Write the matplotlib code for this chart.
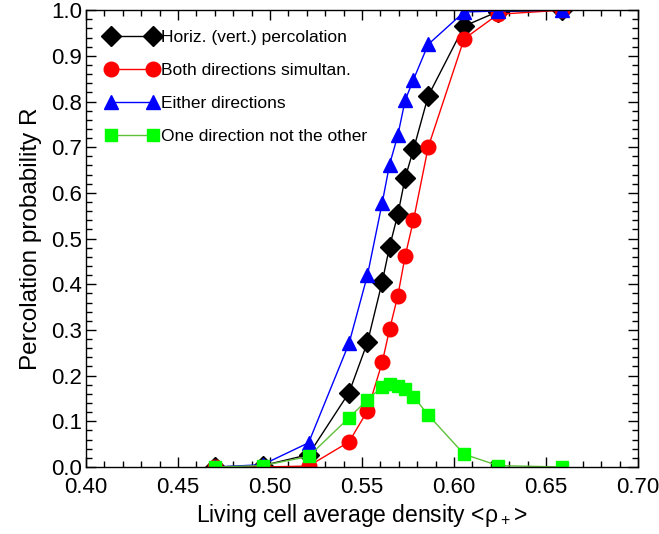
import numpy as np
import matplotlib.pyplot as plt
from matplotlib.ticker import MultipleLocator

plt.rcParams['font.family'] = ['Liberation Sans', 'DejaVu Sans']

density = [0.470, 0.496, 0.521, 0.543, 0.553, 0.561, 0.565, 0.5695, 0.5735, 0.578, 0.586, 0.6055, 0.624, 0.659]
horiz = [0.0, 0.003, 0.027, 0.163, 0.273, 0.405, 0.482, 0.553, 0.633, 0.695, 0.812, 0.965, 0.997, 1.0]
both = [0.0, 0.0, 0.002, 0.055, 0.123, 0.229, 0.301, 0.375, 0.462, 0.540, 0.700, 0.937, 0.991, 1.0]
either = [0.0, 0.005, 0.053, 0.271, 0.420, 0.578, 0.662, 0.726, 0.803, 0.848, 0.925, 0.996, 0.998, 1.0]
one_not_other = [0.0, 0.003, 0.023, 0.108, 0.147, 0.176, 0.181, 0.177, 0.171, 0.154, 0.114, 0.028, 0.003, 0.0]

fig = plt.figure(figsize=(6.59, 5.34), dpi=100)
ax = fig.add_axes([0.1305, 0.1255, 0.8375, 0.8555])

ax.plot(density, horiz, '-D', color='black', lw=1, ms=10, label='Horiz. (vert.) percolation')
ax.plot(density, both, '-o', color='red', mfc='red', mec='red', lw=1, ms=10.5, label='Both directions simultan.')
ax.plot(density, either, '-^', color='blue', mfc='blue', mec='blue', lw=1, ms=10.5, label='Either directions')
ax.plot(density, one_not_other, '-s', color='#5fc03a', mfc='#00ff00', mec='#00ff00', lw=1, ms=8.5,
        label='One direction not the other')

ax.set_xlim(0.40, 0.70)
ax.set_ylim(0.0, 1.0)
ax.xaxis.set_major_locator(MultipleLocator(0.05))
ax.xaxis.set_minor_locator(MultipleLocator(0.01))
ax.yaxis.set_major_locator(MultipleLocator(0.1))
ax.yaxis.set_minor_locator(MultipleLocator(0.02))
ax.xaxis.set_major_formatter(plt.FormatStrFormatter('%.2f'))
ax.yaxis.set_major_formatter(plt.FormatStrFormatter('%.1f'))
ax.tick_params(which='both', direction='in', top=True, right=True, labelsize=16, width=1)
ax.tick_params(which='major', length=7)
ax.tick_params(which='minor', length=4)
ax.tick_params(axis='x', pad=7)
ax.tick_params(axis='y', pad=3)
for s in ax.spines.values():
    s.set_linewidth(1)

ax.set_xlabel(r'Living cell average density <$\mathregular{\rho_+}$>', fontsize=16.5, labelpad=3)
ax.set_ylabel('Percolation probability R', fontsize=17.5, labelpad=6)

ax.legend(loc='upper left', frameon=False, numpoints=2, fontsize=12.5, handlelength=3.0,
          handletextpad=0.17, labelspacing=1.03, borderaxespad=0.0, bbox_to_anchor=(0.023, 0.972))

fig.savefig('out.png', dpi=100)
